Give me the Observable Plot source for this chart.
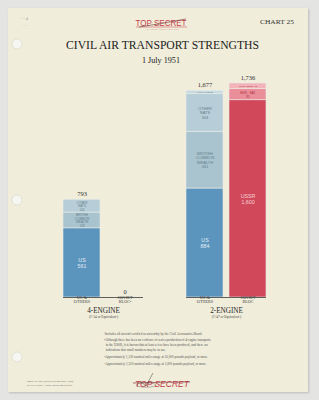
<!DOCTYPE html>
<html><head><meta charset="utf-8">
<script src="https://cdn.jsdelivr.net/npm/d3@7"></script>
<script src="https://cdn.jsdelivr.net/npm/@observablehq/plot@0.6"></script>
<style>
html,body{margin:0;padding:0;width:319px;height:400px;overflow:hidden;background:#e4e4e2;}
#paper{position:absolute;left:8px;top:8px;width:300px;height:384px;background:#f0edda;box-shadow:1px 1px 2px rgba(0,0,0,0.18);}
#chart{position:absolute;left:0;top:60px;}
#overlay{position:absolute;left:0;top:0;}
</style></head><body>
<div id="paper"></div>
<div id="chart"></div>
<svg id="overlay" width="319" height="400"></svg>
<script>
// ---- data ----
const engines = ["4-ENGINE", "2-ENGINE"];
const engineNotes = ["(C-54 or Equivalent³)", "(C-47 or Equivalent⁴)"];
const sides = ["US & OTHERS", "SOVIET BLOC"];
const sideLabels4 = ["US¹&\nOTHERS", "SOVIET\nBLOC²"];
const sideLabels2 = ["US¹&\nOTHERS", "SOVIET\nBLOC"];
const freeGroups = ["US", "BRITISH COMMONWEALTH", "OTHER NATS", "CHINESE NATS"];
const freeTexts = ["US", "BRITISH\nCOMMON\nWEALTH", "OTHER\nNATS", "CHIN. NATS"];
const sovietGroups = ["USSR", "EUR. SAT.", "CHINESE COMM."];
const sovietTexts = ["USSR", "EUR.  SAT.", "CHIN. COMM."];
const fourEngineFree = [561, 128, 104];
const fourEngineSoviet = [0];
const twoEngineFree = [884, 461, 304, 28];
const twoEngineSoviet = [1600, 91, 45];
const footnotes = [
  "¹Includes all aircraft certified as airworthy by the Civil Aeronautics Board.",
  "²Although there has been no evidence of series production of 4-engine transports",
  "  in the USSR, it is known that at least a few have been produced, and there are",
  "  indications that small numbers may be in use.",
  "³Approximately 1,150 nautical miles range at 16,000 pounds payload, or more.",
  "⁴Approximately 1,250 nautical miles range at 5,000 pounds payload, or more."
];

// ---- styles ----
const groupColors = ["#5b94bd", "#aac4cf", "#b7ced8", "#c9dbe2", "#d0485a", "#ea8f9a", "#f2b3b9"];
const textColors = {"US": "#e3edf5", "BRITISH COMMONWEALTH": "#647f8b", "OTHER NATS": "#647f8b",
  "CHINESE NATS": "#647f8b", "USSR": "#f6d5d9", "EUR. SAT.": "#a82a3c", "CHINESE COMM.": "#a82a3c"};
const fmt = d3.format(",");

function build(engine, side, groups, texts, values) {
  return values.map((v, i) => ({engine, side, group: groups[i], name: texts[i], value: v}));
}
const segments = [
  ...build(engines[0], sides[0], freeGroups, freeTexts, fourEngineFree),
  ...build(engines[0], sides[1], sovietGroups, sovietTexts, fourEngineSoviet),
  ...build(engines[1], sides[0], freeGroups, freeTexts, twoEngineFree),
  ...build(engines[1], sides[1], sovietGroups, sovietTexts, twoEngineSoviet)
];
const totals = [
  {engine: engines[0], side: sides[0], total: d3.sum(fourEngineFree)},
  {engine: engines[0], side: sides[1], total: d3.sum(fourEngineSoviet)},
  {engine: engines[1], side: sides[0], total: d3.sum(twoEngineFree)},
  {engine: engines[1], side: sides[1], total: d3.sum(twoEngineSoviet)}
];
const sideRows = [
  ...sides.map((s, i) => ({engine: engines[0], side: s, label: sideLabels4[i]})),
  ...sides.map((s, i) => ({engine: engines[1], side: s, label: sideLabels2[i]}))
];
const engineRows = engines.map((e, i) => ({engine: e, note: engineNotes[i]}));

const segLabel = d => d.value < 60 ? `${d.name} ${fmt(d.value)}` : `${d.name}\n${fmt(d.value)}`;
const segSize = d => d.value < 60 ? 2.3 : d.value < 200 ? 3.1 : (d.group === "US" || d.group === "USSR") ? 5.3 : 4;

const chart = Plot.plot({
  width: 319, height: 300,
  marginTop: 23, marginBottom: 63, marginLeft: 62, marginRight: 53,
  style: {background: "transparent", fontFamily: "'Liberation Serif', serif", overflow: "visible"},
  fx: {domain: engines, paddingInner: 0.35, paddingOuter: 0, axis: null, label: null},
  x: {domain: sides, paddingInner: 0.15, paddingOuter: 0, axis: null, label: null},
  y: {domain: [0, 1736], axis: null, label: null},
  color: {domain: [...freeGroups, ...sovietGroups], range: groupColors},
  marks: [
    Plot.barY(segments, {fx: "engine", x: "side", y: "value", fill: "group", stroke: "#e9ece6", strokeWidth: 0.6}),
    Plot.text(segments.filter(d => d.value > 0), Plot.stackY({
      fx: "engine", x: "side", y: "value", text: segLabel,
      fill: d => textColors[d.group], fontSize: segSize, lineHeight: 1.15,
      fontFamily: "'Liberation Sans', sans-serif"
    })),
    Plot.ruleY([0], {stroke: "#3a3a3a", strokeWidth: 0.8}),
    Plot.text(totals, {fx: "engine", x: "side", y: "total", text: d => fmt(d.total), dy: -5.5, fontSize: 6.5, fill: "#333"}),
    Plot.text(sideRows, {fx: "engine", x: "side", frameAnchor: "bottom", text: "label", dy: 5.5,
      fontSize: 4.2, lineHeight: 1.05, fill: "#444"}),
    Plot.text(engineRows, {fx: "engine", frameAnchor: "bottom", text: "engine", dy: 15, fontSize: 7.2, fill: "#2a2a2a"}),
    Plot.text(engineRows, {fx: "engine", frameAnchor: "bottom", text: "note", dy: 20, fontSize: 3.4, fill: "#444"})
  ]
});
document.getElementById("chart").appendChild(chart);

// ---- page decorations and texts ----
const svg = d3.select("#overlay");
const serif = "'Liberation Serif', serif";
[44, 200, 357].forEach(cy => svg.append("circle").attr("cx", 17).attr("cy", cy).attr("r", 5)
  .attr("fill", "#f6f6f3").attr("stroke", "#d6d3c6").attr("stroke-width", 0.6));

svg.append("text").attr("x", 20).attr("y", 20).attr("font-size", 3.5).attr("fill", "#888").text("· · · 4");
svg.append("text").attr("x", 22).attr("y", 27).attr("font-size", 3.5).attr("fill", "#999").text("· · ·");

// top stamp
svg.append("text").attr("x", 161).attr("y", 25.5).attr("text-anchor", "middle")
  .attr("font-family", "'Liberation Sans', sans-serif").attr("font-size", 8.5).attr("fill", "#c8404c")
  .attr("textLength", 51).attr("lengthAdjust", "spacingAndGlyphs").text("TOP SECRET");
svg.append("line").attr("x1", 136).attr("x2", 187).attr("y1", 27).attr("y2", 27).attr("stroke", "#c8404c").attr("stroke-width", 0.5);
svg.append("path").attr("d", "M139,27 Q160,24 186,19").attr("fill", "none").attr("stroke", "#7a4a44").attr("stroke-width", 0.7);
svg.append("text").attr("x", 162).attr("y", 30).attr("text-anchor", "middle").attr("font-size", 2.2)
  .attr("fill", "#d07a80").text("• CLASSIFICATION CANCELLED");

svg.append("text").attr("x", 260).attr("y", 24).attr("font-family", serif).attr("font-size", 7)
  .attr("fill", "#333").attr("textLength", 34).attr("lengthAdjust", "spacingAndGlyphs").text("CHART 25");

svg.append("text").attr("x", 162.5).attr("y", 48.5).attr("text-anchor", "middle").attr("font-family", serif)
  .attr("font-size", 12.5).attr("fill", "#222").attr("textLength", 193).attr("lengthAdjust", "spacingAndGlyphs")
  .text("CIVIL AIR TRANSPORT STRENGTHS");
svg.append("text").attr("x", 161).attr("y", 63).attr("text-anchor", "middle").attr("font-family", serif)
  .attr("font-size", 8.5).attr("fill", "#222").attr("textLength", 38).attr("lengthAdjust", "spacingAndGlyphs")
  .text("1 July 1951");

// footnotes
const fy = [335, 341, 346, 351, 358, 364.5];
footnotes.forEach((t, i) => svg.append("text").attr("x", 104).attr("y", fy[i]).attr("font-family", serif)
  .attr("font-size", 3.3).attr("fill", "#555").attr("xml:space", "preserve").text(t));

// bottom-left reference
svg.append("text").attr("x", 27).attr("y", 382).attr("font-family", serif).attr("font-size", 2.8).attr("fill", "#666")
  .text("25436 rev 26 (Third Revision May 1952)");
svg.append("text").attr("x", 27).attr("y", 385.5).attr("font-family", serif).attr("font-size", 2.8).attr("fill", "#666")
  .text("8/31/51 Scale: 1 inch equals 500 aircraft");

// bottom stamp
svg.append("text").attr("x", 162).attr("y", 386.5).attr("text-anchor", "middle")
  .attr("font-family", "'Liberation Sans', sans-serif").attr("font-style", "italic").attr("font-size", 9)
  .attr("fill", "#c23a48").attr("textLength", 54).attr("lengthAdjust", "spacingAndGlyphs").text("TOP SECRET");
svg.append("path").attr("d", "M133,383 Q160,382 190,382").attr("fill", "none").attr("stroke", "#8a3a40").attr("stroke-width", 0.7);
svg.append("path").attr("d", "M140,381 L146,386 L153,373").attr("fill", "none").attr("stroke", "#4a3a38").attr("stroke-width", 0.5);
svg.append("ellipse").attr("cx", 146).attr("cy", 385).attr("rx", 10).attr("ry", 2.2).attr("fill", "none")
  .attr("stroke", "#6a4a48").attr("stroke-width", 0.4);
</script>
</body></html>
